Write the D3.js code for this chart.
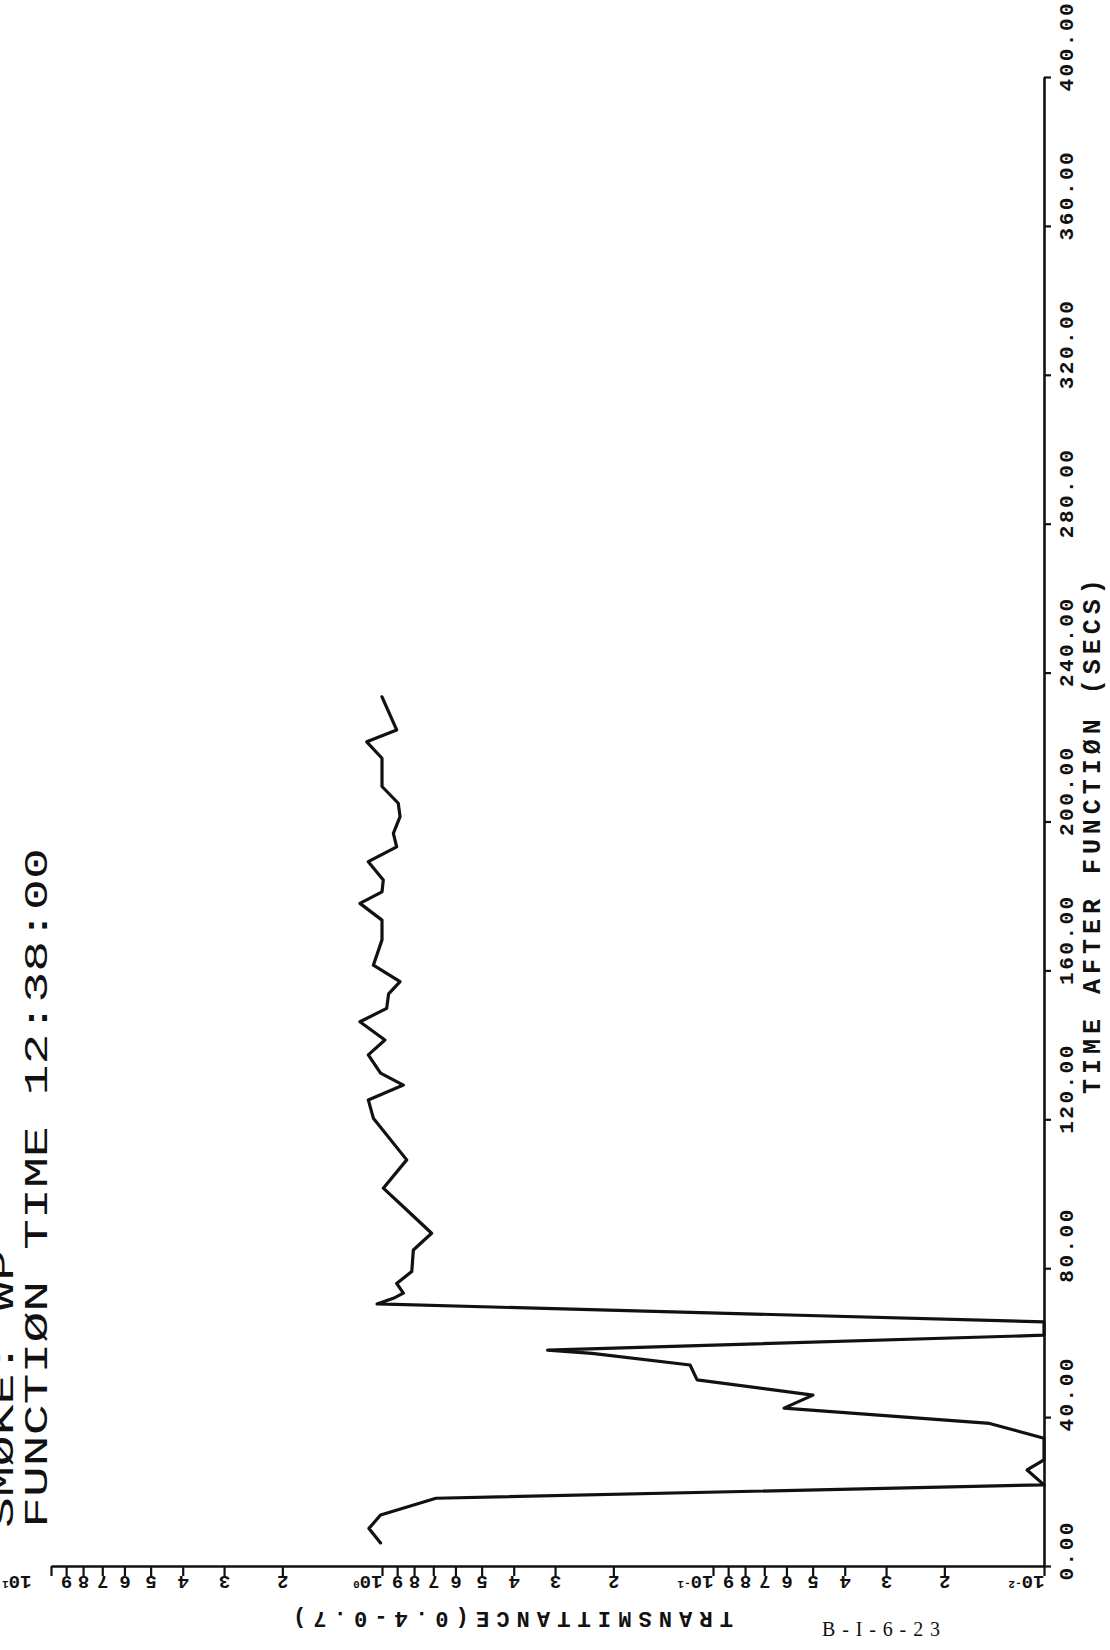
<!DOCTYPE html>
<html><head><meta charset="utf-8">
<script src="https://cdn.jsdelivr.net/npm/d3@7"></script>
<style>html,body{margin:0;padding:0;background:#fff;} svg{display:block;}</style>
</head><body>
<svg id="chart" width="1110" height="1650"></svg>
<script>
// ---- data ----
const titleLines = ["SMØKE: WP", "FUNCTIØN TIME 12:38:00"];
const timeTitle = "TIME AFTER FUNCTIØN (SECS)";
const valueTitle = "TRANSMITTANCE(0.4-0.7)";
const plateLabel = "B-I-6-23";

const timeTicks = [0, 40, 80, 120, 160, 200, 240, 280, 320, 360, 400];
const timeTickLabels = ["0.00","40.00","80.00","120.00","160.00","200.00","240.00","280.00","320.00","360.00","400.00"];

const logTicks = [0.01,0.02,0.03,0.04,0.05,0.06,0.07,0.08,0.09,
                  0.1,0.2,0.3,0.4,0.5,0.6,0.7,0.8,0.9,
                  1,2,3,4,5,6,7,8,9,10];
const logTickLabels = ["10^-2","2","3","4","5","6","7","8","9",
                       "10^-1","2","3","4","5","6","7","8","9",
                       "10^0","2","3","4","5","6","7","8","9",
                       "10^1"];

const times = [6.2, 10.1, 13.7, 18.2, 21.8, 25.8, 28.5, 34.3, 38.3, 42.4, 45.9, 50.0, 54.0, 57.1, 58.0,
  62.0, 65.6, 70.4, 71.9, 73.3, 75.9, 79.1, 84.9, 89.4, 96.5, 101.5, 109.1, 120.3, 125.2, 129.2,
  132.4, 137.3, 141.3, 146.2, 149.8, 153.7, 157.0, 161.4, 168.2, 173.5, 178.0, 181.1, 184.3, 189.2,
  193.2, 196.8, 201.3, 204.9, 209.4, 217.0, 221.4, 224.6, 233.5];
const transmittance = [1.01, 1.095, 1.01, 0.687, 0.01, 0.01125, 0.01, 0.01, 0.0146, 0.061, 0.0499, 0.1117, 0.1173, 0.232, 0.316,
  0.01, 0.01, 1.035, 0.924, 0.862, 0.903, 0.813, 0.804, 0.708, 0.862, 0.991, 0.842, 1.062, 1.100, 0.862,
  1.01, 1.10, 0.98, 1.166, 0.968, 0.955, 0.882, 1.062, 1.00, 1.00, 1.166, 1.00, 0.991, 1.10,
  0.903, 0.924, 0.882, 0.893, 1.00, 1.00, 1.112, 0.903, 1.00];

// ---- drawing ----
const INK = "#111";
const MONO = "'Liberation Mono', 'DejaVu Sans Mono', monospace";
const svg = d3.select("#chart");
svg.append("rect").attr("width",1110).attr("height",1650).attr("fill","#fff");

const x = d3.scaleLog().domain([0.01, 10]).range([1044, 51]);
const y = d3.scaleLinear().domain([0, 400]).range([1566, 77]);

// log (transmittance) axis along the bottom
const gx = svg.append("g").attr("transform", `translate(0,${y(0)})`)
  .call(d3.axisBottom(x).tickValues(logTicks).tickSize(10).tickSizeOuter(0)
        .tickFormat((d,i)=>logTickLabels[i]));
gx.select(".domain").attr("stroke", INK).attr("stroke-width", 2.6);
gx.selectAll(".tick line").attr("stroke", INK).attr("stroke-width", 2.2);
gx.selectAll(".tick text").each(function(d,i){
  const t = d3.select(this);
  const lab = logTickLabels[i];
  t.text(null).attr("y", null).attr("dy", null).attr("x", null)
   .attr("font-family", MONO).attr("font-size", 19).attr("font-weight", "bold").attr("fill", INK);
  const parts = lab.split("^");
  if (parts.length === 2) {
    const shift = (i === logTickLabels.length - 1) ? -20 : 0;
    t.attr("text-anchor", "start").attr("transform", `translate(${shift},10) rotate(180)`);
    t.append("tspan").text(parts[0]);
    t.append("tspan").attr("dy", "-0.45em").attr("font-size", 11).text(parts[1]);
  } else {
    t.attr("text-anchor", "middle").attr("transform", "translate(0,10) rotate(180)").text(lab);
  }
});

// time axis along the right
const gy = svg.append("g").attr("transform", `translate(${x(0.01)},0)`)
  .call(d3.axisRight(y).tickValues(timeTicks).tickSize(7).tickSizeOuter(0)
        .tickFormat((d,i)=>timeTickLabels[i]));
gy.select(".domain").attr("stroke", INK).attr("stroke-width", 2.6);
gy.selectAll(".tick line").attr("stroke", INK).attr("stroke-width", 2.2);
gy.selectAll(".tick text").attr("x", null).attr("dy", null).attr("y", null)
  .attr("text-anchor", "start").attr("transform", "translate(29,14) rotate(-90)")
  .attr("font-family", MONO).attr("font-size", 21).attr("font-weight", "bold")
  .attr("letter-spacing", 2.5).attr("fill", INK);

// data line
const pts = times.map((t,i)=>({t, v: transmittance[i]}));
svg.append("path").datum(pts)
  .attr("d", d3.line().x(d=>x(d.v)).y(d=>y(d.t)))
  .attr("fill", "none").attr("stroke", INK).attr("stroke-width", 3.2)
  .attr("stroke-linejoin", "round").attr("stroke-linecap", "round");

// titles
const titleBase = [13, 47];
titleLines.forEach((s,i)=>{
  svg.append("text").attr("transform", `translate(${titleBase[i]},1528) rotate(-90)`)
    .attr("font-family", MONO).attr("font-size", 34).attr("fill", INK)
    .attr("textLength", s.length * 30.9).attr("lengthAdjust", "spacingAndGlyphs")
    .text(s);
});

svg.append("text").attr("transform", "translate(1100,1094) rotate(-90)")
  .attr("font-family", MONO).attr("font-size", 25).attr("font-weight", "bold").attr("fill", INK)
  .attr("textLength", timeTitle.length * 19.8).attr("lengthAdjust", "spacing")
  .text(timeTitle);

svg.append("text").attr("transform", "translate(513,1612) rotate(180)")
  .attr("text-anchor", "middle")
  .attr("font-family", MONO).attr("font-size", 22).attr("font-weight", "bold").attr("fill", INK)
  .attr("textLength", valueTitle.length * 20).attr("lengthAdjust", "spacing")
  .text(valueTitle);

svg.append("text").attr("x", 822).attr("y", 1636)
  .attr("font-family", "'Liberation Serif', 'DejaVu Serif', serif").attr("font-size", 20).attr("fill", INK)
  .attr("textLength", 118).attr("lengthAdjust", "spacing")
  .text(plateLabel);
</script>
</body></html>
